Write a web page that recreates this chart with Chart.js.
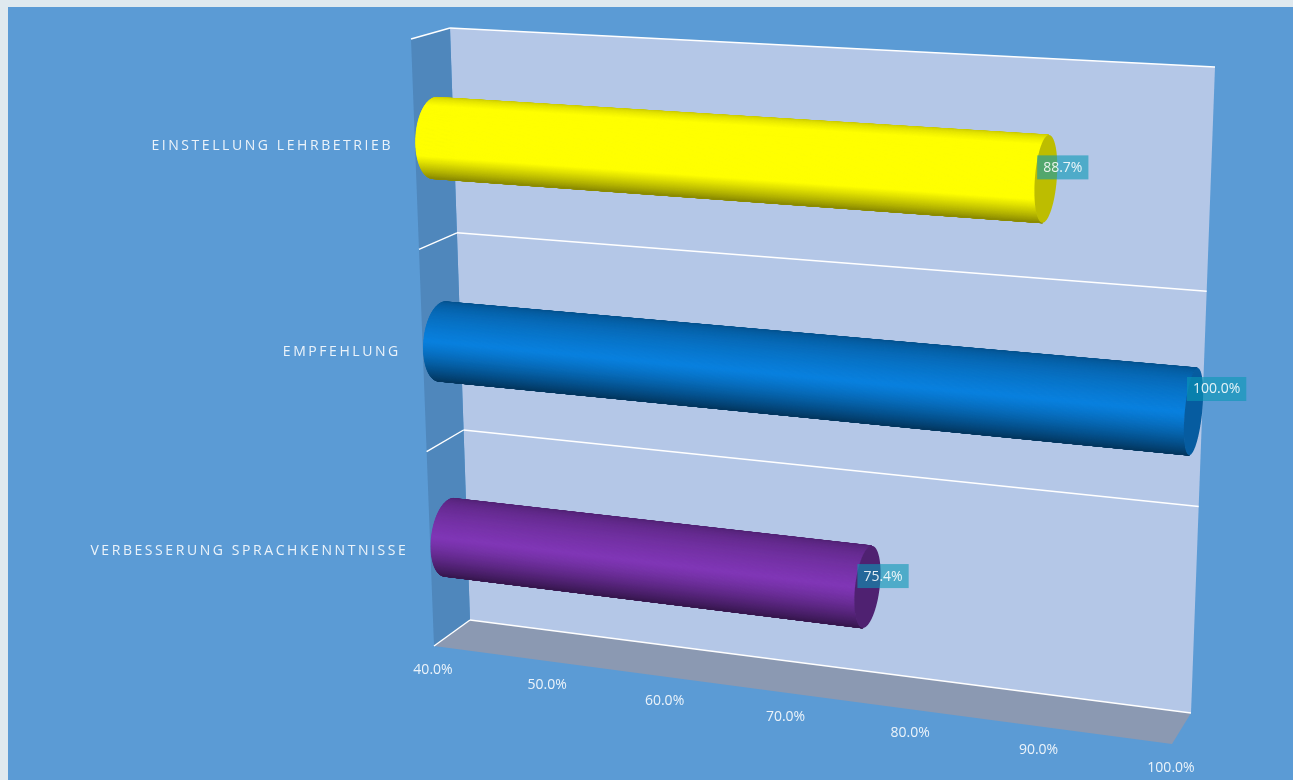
<!DOCTYPE html>
<html>
<head>
<meta charset="utf-8">
<title>Chart</title>
<script src="https://cdn.jsdelivr.net/npm/chart.js@4"></script>
<style>
html, body { margin: 0; height: 100%; background: #dfe9ef; overflow: hidden; }
#panel { position: absolute; left: 8px; top: 7px; right: 0; bottom: 0; background: #5b9bd5; }
#myChart { position: absolute; left: -8px; top: -7px; }
</style>
</head>
<body>
<div id="panel"><canvas id="myChart" width="1293" height="780"></canvas></div>
<script>
const categories = ['EINSTELLUNG LEHRBETRIEB', 'EMPFEHLUNG', 'VERBESSERUNG SPRACHKENNTNISSE'];
const seriesValues = [88.7, 100.0, 75.4];
const axisStart = 40;
const axisEnd = 100;
const barColors = ['rgb(255,255,0)', 'rgb(8,128,222)', 'rgb(128,54,182)'];
const barGain = [1.25, 1, 1];
const capShade = [0.74, 0.72, 0.62];

// corners of the 3d box as it is seen on the page
const backPlane = makeQuad([450, 28], [1215, 67], [1191, 713], [470, 620]);
const frontPlane = makeQuad([411, 39], [1196, 83], [1172, 744], [434, 646]);
const barDepth = 0.48;
const barDepthRadius = 0.5;
const labelNudge = [[6, -3], [14, -11], [3, 2]];
const textFont = '14px "Open Sans"';
const textColor = 'rgba(255,255,255,0.88)';

function makeQuad(tl, tr, br, bl) {
    const dx1 = tr[0] - br[0], dx2 = bl[0] - br[0], sx = tl[0] - tr[0] + br[0] - bl[0];
    const dy1 = tr[1] - br[1], dy2 = bl[1] - br[1], sy = tl[1] - tr[1] + br[1] - bl[1];
    const det = dx1 * dy2 - dx2 * dy1;
    const g = (sx * dy2 - dx2 * sy) / det;
    const h = (dx1 * sy - sx * dy1) / det;
    const a = tr[0] - tl[0] + g * tr[0], b = bl[0] - tl[0] + h * bl[0];
    const d = tr[1] - tl[1] + g * tr[1], e = bl[1] - tl[1] + h * bl[1];
    return (u, v) => {
        const w = g * u + h * v + 1;
        return [(a * u + b * v + tl[0]) / w, (d * u + e * v + tl[1]) / w];
    };
}

// u, v are 0..1 across the plot, depth 0 is the back wall and 1 the front
function project(u, v, depth) {
    const p = backPlane(u, v), q = frontPlane(u, v);
    return [p[0] + (q[0] - p[0]) * depth, p[1] + (q[1] - p[1]) * depth];
}

function poly(ctx, pts, fill) {
    ctx.beginPath();
    pts.forEach((p, i) => i ? ctx.lineTo(p[0], p[1]) : ctx.moveTo(p[0], p[1]));
    ctx.closePath();
    ctx.fillStyle = fill;
    ctx.fill();
}

function line(ctx, a, b) {
    ctx.beginPath();
    ctx.moveTo(a[0], a[1]);
    ctx.lineTo(b[0], b[1]);
    ctx.strokeStyle = '#ffffff';
    ctx.lineWidth = 1.4;
    ctx.stroke();
}

function shade(color, k) {
    const c = color.match(/\d+/g).map(Number);
    return `rgb(${c.map((n) => Math.min(255, Math.round(n * k))).join(',')})`;
}

function lightAt(t) {
    if (t < 0.5) return 0.62 + 0.38 * Math.pow(t / 0.5, 0.5);
    return 1 - 0.56 * Math.pow((t - 0.5) / 0.5, 1.3);
}

function drawCylinder(ctx, u0, u1, v, vr, color, gain, capK) {
    const steps = 160;
    const ring = (u, a) => project(u, v - vr * Math.cos(a), barDepth + barDepthRadius * Math.sin(a));
    // the side that faces the viewer is turned a bit because we look from above
    const um = (u0 + u1) / 2;
    const mid = project(um, v, barDepth);
    const tilt = Math.atan2(project(um, v, barDepth + barDepthRadius)[1] - mid[1], project(um, v + vr, barDepth)[1] - mid[1]);
    for (let i = 0; i < steps; i++) {
        const a0 = Math.PI * i / steps - tilt, a1 = Math.PI * (i + 1) / steps - tilt;
        const t = (i + 0.5) / steps;
        const screenT = (1 - Math.cos(Math.PI * t)) / 2;
        const fill = shade(color, lightAt(screenT) * gain);
        poly(ctx, [ring(u0, a0), ring(u1, a0), ring(u1, a1 + 0.01), ring(u0, a1 + 0.01)], fill);
        ctx.strokeStyle = fill;
        ctx.lineWidth = 0.7;
        ctx.stroke();
    }
    const cap = [];
    for (let i = 0; i < steps * 2; i++) cap.push(ring(u1, Math.PI * i / steps));
    poly(ctx, cap, shade(color, capK));
}

const box3d = {
    id: 'box3d',
    beforeDatasetsDraw(chart) {
        const ctx = chart.ctx;
        const area = chart.chartArea;
        const xScale = chart.scales.x, yScale = chart.scales.y;
        const toU = (px) => (px - area.left) / area.width;
        const toV = (py) => (py - area.top) / area.height;
        const bars = chart.getDatasetMeta(0).data;

        ctx.save();
        // walls and floor
        poly(ctx, [project(0, 0, 0), project(1, 0, 0), project(1, 1, 0), project(0, 1, 0)], '#b4c7e7');
        poly(ctx, [project(0, 0, 0), project(0, 1, 0), project(0, 1, 1), project(0, 0, 1)], '#4f87bc');
        poly(ctx, [project(0, 1, 0), project(1, 1, 0), project(1, 1, 1), project(0, 1, 1)], '#8b99b2');

        // grid lines between the categories
        for (let i = 0; i <= categories.length; i++) {
            const v = toV(yScale.getPixelForValue(i - 0.5));
            line(ctx, project(0, v, 0), project(1, v, 0));
            line(ctx, project(0, v, 0), project(0, v, 1));
        }

        // bars
        bars.forEach((bar, i) => {
            const v = toV(bar.y);
            drawCylinder(ctx, toU(bar.base), toU(bar.x), v, bar.height / 2 / area.height, bar.options.backgroundColor, barGain[i], capShade[i]);
        });

        ctx.font = textFont;
        ctx.textBaseline = 'middle';

        // value labels
        ctx.textAlign = 'center';
        bars.forEach((bar, i) => {
            const text = seriesValues[i].toFixed(1) + '%';
            const p = project(toU(bar.x), toV(bar.y), 0);
            const w = ctx.measureText(text).width + 12;
            const cx = p[0] + labelNudge[i][0], cy = p[1] + labelNudge[i][1];
            ctx.fillStyle = 'rgba(10,152,181,0.6)';
            ctx.fillRect(cx - w / 2, cy - 12, w, 24);
            ctx.fillStyle = textColor;
            ctx.fillText(text, cx, cy + 0.5);
        });

        // value axis labels under the floor
        xScale.ticks.forEach((tick) => {
            const p = project(toU(xScale.getPixelForValue(tick.value)), 1, 1);
            ctx.fillStyle = textColor;
            ctx.fillText(tick.label, p[0] - 1, p[1] + 24);
        });

        // category labels left of the side wall
        ctx.textAlign = 'right';
        ctx.letterSpacing = '2.57px';
        yScale.ticks.forEach((tick, i) => {
            const p = project(0, toV(yScale.getPixelForValue(i)), 1);
            ctx.fillStyle = textColor;
            ctx.fillText(tick.label, p[0] - 22, p[1] + 1);
        });
        ctx.letterSpacing = '0px';
        ctx.restore();
        return false;
    }
};

new Chart(document.getElementById('myChart'), {
    type: 'bar',
    data: {
        labels: categories,
        datasets: [{ data: seriesValues, base: axisStart, backgroundColor: barColors, barPercentage: 0.385, categoryPercentage: 1 }]
    },
    options: {
        indexAxis: 'y',
        responsive: false,
        animation: false,
        devicePixelRatio: 1,
        plugins: { legend: { display: false }, tooltip: { enabled: false } },
        scales: {
            x: {
                min: axisStart,
                max: axisEnd,
                ticks: { display: false, stepSize: 10, callback: (value) => value.toFixed(1) + '%' },
                grid: { display: false },
                border: { display: false }
            },
            y: {
                ticks: { display: false },
                grid: { display: false },
                border: { display: false }
            }
        }
    },
    plugins: [box3d]
});
</script>
</body>
</html>
